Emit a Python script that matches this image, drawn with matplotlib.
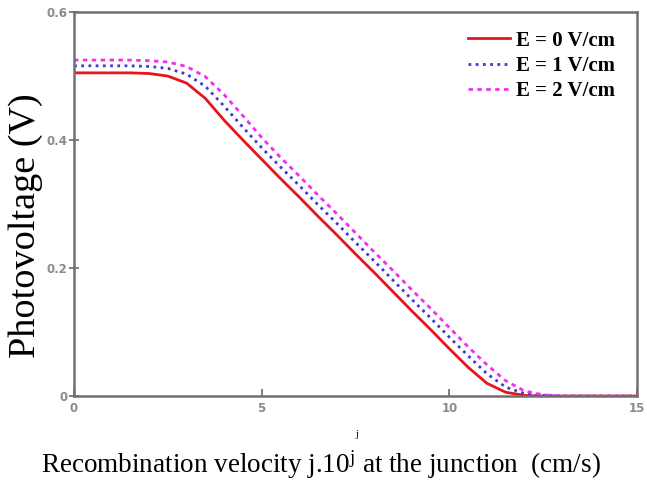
import matplotlib
matplotlib.use("Agg")
import matplotlib.pyplot as plt

plt.rcParams['mathtext.fontset'] = 'custom'
plt.rcParams['mathtext.rm'] = 'Liberation Serif'
plt.rcParams['mathtext.it'] = 'Liberation Serif'

# data
j = [0, 0.5, 1, 1.5, 2, 2.5, 3, 3.5, 4, 4.5, 5, 5.5, 6, 6.5, 7, 7.5, 8, 8.5, 9,
     9.5, 10, 10.5, 11, 11.5, 12, 12.5, 13, 13.5, 14, 14.5, 15]
v_e0 = [0.505, 0.505, 0.505, 0.505, 0.504, 0.500, 0.489, 0.465, 0.431, 0.400,
        0.370, 0.340, 0.311, 0.281, 0.252, 0.222, 0.193, 0.163, 0.133, 0.104,
        0.074, 0.045, 0.020, 0.006, 0.001, 0.0, 0.0, 0.0, 0.0, 0.0, 0.0]
v_e1 = [0.516, 0.516, 0.516, 0.516, 0.515, 0.512, 0.503, 0.484, 0.453, 0.420,
        0.388, 0.358, 0.329, 0.299, 0.270, 0.240, 0.211, 0.181, 0.151, 0.122,
        0.092, 0.063, 0.035, 0.014, 0.004, 0.001, 0.0, 0.0, 0.0, 0.0, 0.0]
v_e2 = [0.525, 0.525, 0.525, 0.525, 0.524, 0.522, 0.515, 0.499, 0.471, 0.438,
        0.404, 0.373, 0.344, 0.314, 0.285, 0.255, 0.225, 0.196, 0.166, 0.137,
        0.107, 0.077, 0.049, 0.024, 0.008, 0.002, 0.0, 0.0, 0.0, 0.0, 0.0]
labels = ['E = 0 V/cm', 'E = 1 V/cm', 'E = 2 V/cm']
x_ticks = [0, 5, 10, 15]
y_ticks = [0, 0.2, 0.4, 0.6]
y_tick_labels = ['0', '0.2', '0.4', '0.6']

fig = plt.figure(figsize=(6.47, 4.83), dpi=100)
ax = fig.add_axes([0.1144, 0.180, 0.8701, 0.795])

ax.plot(j, v_e0, color='#e8141c', lw=2.0, label=labels[0])
ax.plot(j, v_e1, color='#3a3ad8', lw=2.0, linestyle=(0, (1, 1.6)), label=labels[1])
ax.plot(j, v_e2, color='#f030f0', lw=2.0, linestyle=(0, (1.6, 1.6)), label=labels[2])

ax.set_xlim(0, 15)
ax.set_ylim(0, 0.6)
ax.set_xticks(x_ticks)
ax.set_xticklabels([str(t) for t in x_ticks])
ax.set_yticks(y_ticks)
ax.set_yticklabels(y_tick_labels)
ax.tick_params(length=5, width=1.2, colors='#6a6a6a', labelsize=8.5,
               labelcolor='#8a8a8a')
ax.tick_params(axis='x', direction='in', pad=4)
ax.tick_params(axis='y', direction='inout', length=7, pad=1)
for lab in ax.get_xticklabels() + ax.get_yticklabels():
    lab.set_fontweight('bold')
for s in ax.spines.values():
    s.set_color('#707070')
    s.set_linewidth(1.8)

fig.text(0.039, 0.532, 'Photovoltage (V)', family='Liberation Serif', fontsize=27.5,
         rotation=90, ha='center', va='center')
fig.text(0.552, 0.101, 'j', family='Liberation Serif', fontsize=8,
         ha='center', va='center')
fig.text(0.496, 0.021, r'Recombination velocity j.10$^{\mathrm{j}}$ at the junction  (cm/s)',
         family='Liberation Serif', fontsize=19.5, ha='center', va='baseline')

leg = ax.legend(loc='upper right', bbox_to_anchor=(0.976, 0.973), frameon=False,
                handlelength=2.0, handletextpad=0.3, labelspacing=0.25,
                borderaxespad=0,
                prop={'family': 'Liberation Serif', 'size': 15, 'weight': 'bold'})

fig.savefig('out.png', dpi=100)
